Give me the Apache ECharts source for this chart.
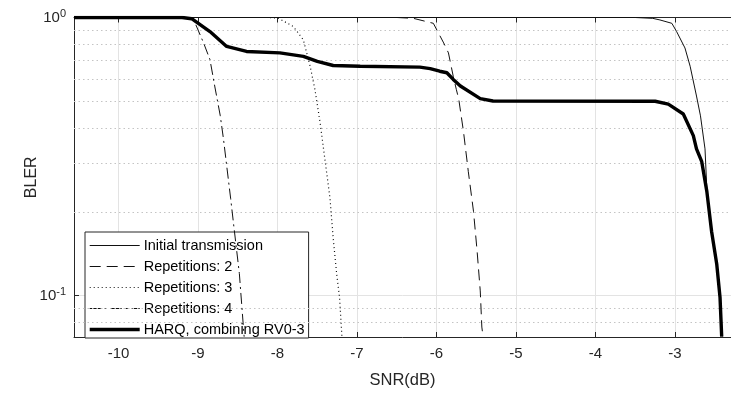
<!DOCTYPE html>
<html>
<head>
<meta charset="utf-8">
<script src="https://cdn.jsdelivr.net/npm/echarts@6/dist/echarts.min.js"></script>
<style>
html,body{margin:0;padding:0;background:#fff;}
#c{width:731px;height:394px;}
</style>
</head>
<body>
<div id="c"></div>
<script>
// ---- data ----
const xTicks = [-10, -9, -8, -7, -6, -5, -4, -3];
const yMinorGrid = [0.08, 0.09, 0.2, 0.3, 0.4, 0.5, 0.6, 0.7, 0.8, 0.9];
const seriesNames = ['Initial transmission', 'Repetitions: 2', 'Repetitions: 3', 'Repetitions: 4', 'HARQ, combining RV0-3'];

const initX = [-10.56, -3.5, -3.28, -3.19, -3.04, -2.98, -2.875, -2.81, -2.73, -2.68, -2.623, -2.60, -2.54, -2.475, -2.434, -2.406];
const initY = [1, 1, 0.993, 0.98, 0.953, 0.89, 0.777, 0.668, 0.522, 0.443, 0.337, 0.243, 0.172, 0.131, 0.099, 0.0712];

const rep2X = [-10.56, -6.5, -6.29, -6.04, -5.91, -5.85, -5.79, -5.75, -5.72, -5.66, -5.60, -5.535, -5.49, -5.45, -5.43, -5.415];
const rep2Y = [1, 1, 0.993, 0.953, 0.81, 0.746, 0.615, 0.55, 0.508, 0.387, 0.279, 0.201, 0.145, 0.104, 0.0771, 0.0712];

const rep3X = [-10.56, -8.1, -7.99, -7.80, -7.675, -7.59, -7.53, -7.465, -7.40, -7.34, -7.30, -7.255, -7.22, -7.19];
const rep3Y = [1, 1, 0.995, 0.927, 0.831, 0.668, 0.552, 0.42, 0.303, 0.224, 0.161, 0.119, 0.0986, 0.0712];

const rep4X = [-10.56, -9.2, -9.06, -8.93, -8.85, -8.79, -8.72, -8.68, -8.64, -8.59, -8.547, -8.48, -8.42];
const rep4Y = [1, 1, 0.99, 0.81, 0.706, 0.567, 0.443, 0.366, 0.294, 0.224, 0.175, 0.12, 0.0712];

const harqX = [-10.56, -9.2, -9.08, -8.85, -8.64, -8.39, -7.97, -7.675, -7.5, -7.30, -6.96, -6.21, -6.08, -5.96, -5.87, -5.79, -5.70, -5.45, -5.29, -3.25, -3.085, -2.896, -2.77, -2.73, -2.664, -2.60, -2.54, -2.475, -2.434, -2.413];
const harqY = [1, 1, 0.99, 0.89, 0.787, 0.755, 0.746, 0.725, 0.695, 0.672, 0.668, 0.663, 0.655, 0.641, 0.633, 0.599, 0.567, 0.511, 0.501, 0.5, 0.488, 0.45, 0.376, 0.337, 0.303, 0.237, 0.170, 0.1296, 0.0986, 0.0712];

const X_MIN = -10.56, X_MAX = -2.296, Y_MIN = 0.0710, Y_MAX = 1;

function pairs(xs, ys) { return xs.map((x, i) => [x, ys[i]]); }

const FONT = 'Liberation Sans, Arial, sans-serif';
const AX = '#262626';

const styles = [
  {color: '#111', width: 1, type: 'solid'},
  {color: '#111', width: 1, type: [11, 6]},
  {color: '#111', width: 1.2, type: [1, 3]},
  {color: '#111', width: 1, type: [11, 4, 2, 4]},
  {color: '#000', width: 3.4, type: 'solid'}
];

const chart = echarts.init(document.getElementById('c'), null, {renderer: 'canvas'});

const lineBase = {type: 'line', showSymbol: false, symbol: 'none', animation: false, xAxisIndex: 0, yAxisIndex: 0};

const option = {
  animation: false,
  backgroundColor: '#fff',
  grid: {left: 74, top: 17.5, right: 0, bottom: 54, containLabel: false},
  xAxis: [{
    type: 'value', min: X_MIN, max: X_MAX, position: 'bottom',
    name: 'SNR(dB)', nameLocation: 'middle', nameGap: 35, nameMoveOverlap: false,
    nameTextStyle: {fontFamily: FONT, fontSize: 16.5, color: AX},
    axisLine: {show: true, lineStyle: {color: AX, width: 1}},
    axisTick: {show: true, inside: true, length: 5, customValues: xTicks, lineStyle: {color: AX}},
    axisLabel: {show: true, customValues: xTicks, margin: 9, fontFamily: FONT, fontSize: 15, color: AX,
      formatter: v => String(Math.round(v))},
    splitLine: {show: true, lineStyle: {color: '#e3e3e3', width: 1}}
  }, {
    type: 'value', min: X_MIN, max: X_MAX, position: 'top',
    axisLine: {show: true, lineStyle: {color: AX, width: 1}},
    axisTick: {show: true, inside: true, length: 5, customValues: xTicks, lineStyle: {color: AX}},
    axisLabel: {show: false},
    splitLine: {show: false}
  }],
  yAxis: [{
    type: 'log', logBase: 10, min: Y_MIN, max: Y_MAX,
    name: 'BLER', nameLocation: 'middle', nameGap: 34, nameRotate: 90, nameMoveOverlap: false,
    nameTextStyle: {fontFamily: FONT, fontSize: 16, color: AX},
    axisLine: {show: true, lineStyle: {color: AX, width: 1}},
    axisTick: {show: true, inside: true, length: 5, lineStyle: {color: AX}},
    axisLabel: {show: true, margin: 8, showMinLabel: false, fontFamily: FONT, fontSize: 15, color: AX,
      formatter: function (v) {
        if (Math.abs(v - 1) < 1e-6) return '10{s|0}';
        if (Math.abs(v - 0.1) < 1e-6) return '10{s|-1}';
        return '';
      },
      rich: {s: {fontSize: 11, fontFamily: FONT, color: AX, verticalAlign: 'top', padding: [0, 0, 8, 0]}}
    },
    splitLine: {show: true, lineStyle: {color: '#e3e3e3', width: 1}}
  }],
  legend: {
    show: true, orient: 'vertical', left: 85, top: 232,
    data: seriesNames.map((n, i) => ({name: n, lineStyle: {width: styles[i].width, type: styles[i].type, color: styles[i].color}})),
    itemWidth: 50, itemHeight: 15, itemGap: 6,
    padding: [6, 4, 1, 3],
    backgroundColor: '#fff', borderColor: AX, borderWidth: 1, borderRadius: 0,
    itemStyle: {color: 'transparent', borderColor: 'transparent', borderWidth: 0, opacity: 0},
    textStyle: {fontFamily: FONT, fontSize: 14.5, lineHeight: 15, color: '#000', padding: [0, 0, 0, -1]}
  },
  series: seriesNames.map((n, i) => {
    const xs = [initX, rep2X, rep3X, rep4X, harqX][i];
    const ys = [initY, rep2Y, rep3Y, rep4Y, harqY][i];
    const s = Object.assign({}, lineBase, {
      name: n, data: pairs(xs, ys), z: i === 4 ? 6 : 5,
      lineStyle: styles[i], itemStyle: {color: styles[i].color}
    });
    if (i === 0) {
      s.markLine = {
        silent: true, symbol: 'none', animation: false,
        label: {show: false},
        lineStyle: {color: '#c4c4c4', width: 1, type: [1.5, 3]},
        data: yMinorGrid.map(v => ({yAxis: v}))
      };
    }
    return s;
  })
};
chart.setOption(option);
</script>
</body>
</html>
